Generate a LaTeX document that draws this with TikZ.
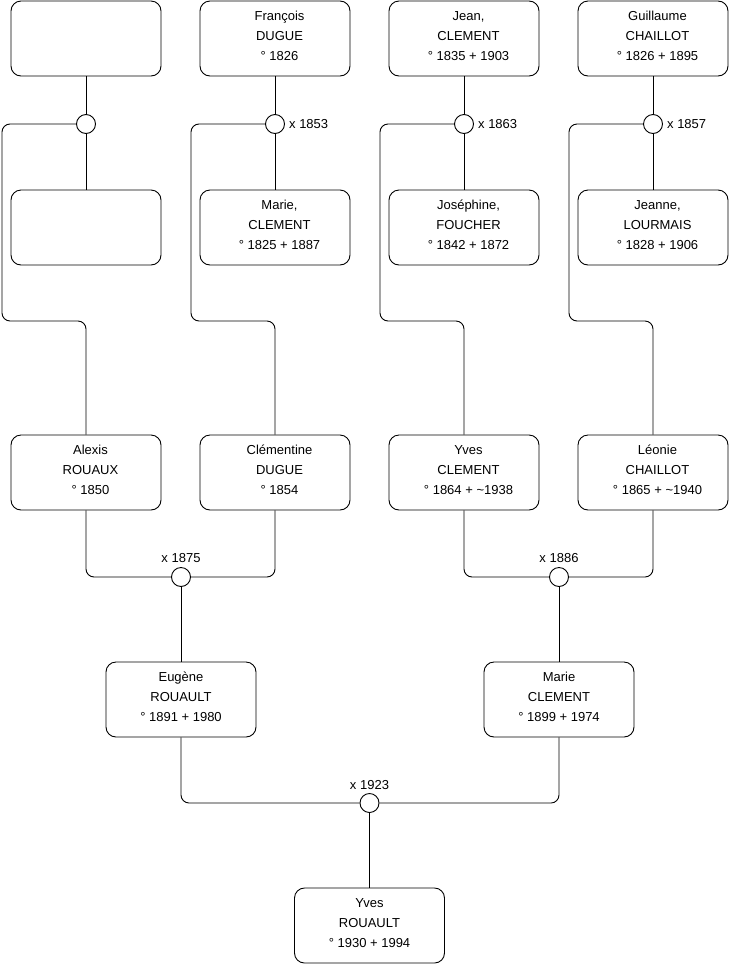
\documentclass[tikz,border=0pt]{standalone}
\usepackage{fontspec}
\setmainfont{Liberation Sans}
\usetikzlibrary{calc}
\newcommand\famtxt[4][9pt]{\hspace*{#1}\raisebox{2pt}[\height][\depth]{\begin{tabular}{@{}c@{}}#2\\#3\\#4\end{tabular}}}
\begin{document}
\begin{tikzpicture}[x=1pt,y=-1pt,
  person/.style={draw, line width=0.9pt, rounded corners=10pt, minimum width=150pt, minimum height=75pt,
    font=\fontsize{13}{20}\selectfont, inner sep=0pt, fill=white},
  union/.style={draw, line width=0.9pt, circle, minimum size=19pt, inner sep=0pt, fill=white},
  conn/.style={line width=0.9pt, rounded corners=8pt},
  lbl/.style={font=\fontsize{13}{15}\selectfont, inner sep=0pt}]
\useasboundingbox (0,0) rectangle (740,975);
% top row
\node[person] (f1) at (86,38.5) {};
\node[person] (f2) at (275,38.5) {\famtxt{François}{DUGUE}{° 1826}};
\node[person] (f3) at (464,38.5) {\famtxt{Jean,}{CLEMENT}{° 1835 + 1903}};
\node[person] (f4) at (653,38.5) {\famtxt{Guillaume}{CHAILLOT}{° 1826 + 1895}};
% second row
\node[person] (m1) at (86,227.5) {};
\node[person] (m2) at (275,227.5) {\famtxt{Marie,}{CLEMENT}{° 1825 + 1887}};
\node[person] (m3) at (464,227.5) {\famtxt{Joséphine,}{FOUCHER}{° 1842 + 1872}};
\node[person] (m4) at (653,227.5) {\famtxt{Jeanne,}{LOURMAIS}{° 1828 + 1906}};
% unions
\node[union] (c1) at (86,124) {};
\node[union] (c2) at (275,124) {};
\node[union] (c3) at (464,124) {};
\node[union] (c4) at (653,124) {};
% third row
\node[person] (a1) at (86,472.5) {\famtxt{Alexis}{ROUAUX}{° 1850}};
\node[person] (a2) at (275,472.5) {\famtxt{Clémentine}{DUGUE}{° 1854}};
\node[person] (a3) at (464,472.5) {\famtxt{Yves}{CLEMENT}{° 1864 + \textasciitilde1938}};
\node[person] (a4) at (653,472.5) {\famtxt{Léonie}{CHAILLOT}{° 1865 + \textasciitilde1940}};
\node[union] (d1) at (181,577) {};
\node[union] (d2) at (559,577) {};
% fourth row
\node[person] (b1) at (181,699.5) {\famtxt[0pt]{Eugène}{ROUAULT}{° 1891 + 1980}};
\node[person] (b2) at (559,699.5) {\famtxt[0pt]{Marie}{CLEMENT}{° 1899 + 1974}};
\node[union] (e) at (369.5,803) {};
\node[person] (g) at (369.5,925.5) {\famtxt[0pt]{Yves}{ROUAULT}{° 1930 + 1994}};
% labels
\node[lbl, anchor=west] (l2) at ($(c2.east)+(4,0)$) {x 1853};
\node[lbl, anchor=west] (l3) at ($(c3.east)+(4,0)$) {x 1863};
\node[lbl, anchor=west] (l4) at ($(c4.east)+(4,0)$) {x 1857};
\node[lbl] (l5) at ($(d1)+(0,-19)$) {x 1875};
\node[lbl] (l6) at ($(d2)+(0,-19)$) {x 1886};
\node[lbl] (l7) at ($(e)+(0,-18)$) {x 1923};
% connectors
\foreach \i in {1,2,3,4}{
  \draw[conn] (f\i.south) -- (c\i.north);
  \draw[conn] (c\i.south) -- (m\i.north);
}
\draw[conn] (c1.west) -| (2,321) -| (a1.north);
\draw[conn] (c2.west) -| (191,321) -| (a2.north);
\draw[conn] (c3.west) -| (380,321) -| (a3.north);
\draw[conn] (c4.west) -| (569,321) -| (a4.north);
\draw[conn] (a1.south) |- (d1.west);
\draw[conn] (a2.south) |- (d1.east);
\draw[conn] (a3.south) |- (d2.west);
\draw[conn] (a4.south) |- (d2.east);
\draw[conn] (d1.south) -- (b1.north);
\draw[conn] (d2.south) -- (b2.north);
\draw[conn] (b1.south) |- (e.west);
\draw[conn] (b2.south) |- (e.east);
\draw[conn] (e.south) -- (g.north);
\end{tikzpicture}
\end{document}
